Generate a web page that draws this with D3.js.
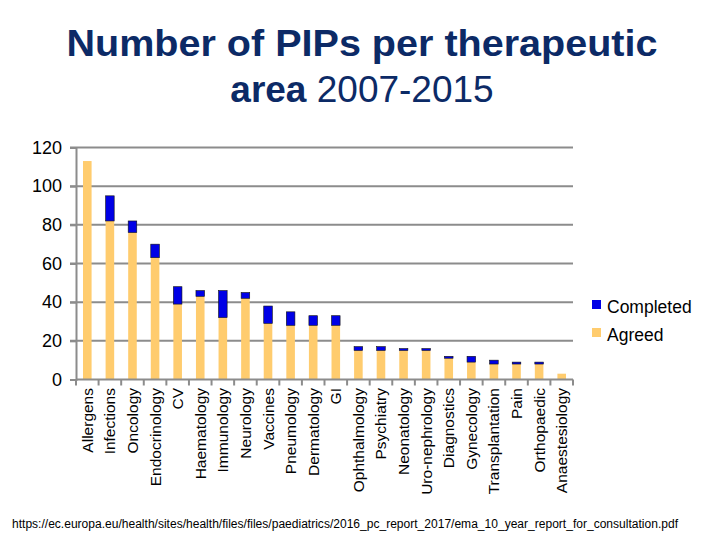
<!DOCTYPE html>
<html><head><meta charset="utf-8">
<script src="https://cdn.jsdelivr.net/npm/d3@7/dist/d3.min.js"></script>
<style>body{margin:0;background:#fff;}svg{display:block;font-family:Arial,"Liberation Sans",sans-serif;}</style>
</head><body>
<svg id="c" width="720" height="540"></svg>
<script>
const categories = ["Allergens","Infections","Oncology","Endocrinology","CV","Haematology","Immunology","Neurology","Vaccines","Pneumology","Dermatology","GI","Ophthalmology","Psychiatry","Neonatology","Uro-nephrology","Diagnostics","Gynecology","Transplantation","Pain","Orthopaedic","Anaestesiology"];
const agreed    = [113, 82, 76, 63, 39, 43, 32, 42, 29, 28, 28, 28, 15, 15, 15, 15, 11, 9, 8, 8, 8, 3];
const completed = [0, 13, 6, 7, 9, 3, 14, 3, 9, 7, 5, 5, 2, 2, 1, 1, 1, 3, 2, 1, 1, 0];
const yTicks = [0, 20, 40, 60, 80, 100, 120];
const seriesNames = ["Completed", "Agreed"];
const colors = {Completed: "#0000e6", Agreed: "#ffcc6e"};

const svg = d3.select("#c");
const x = d3.scaleBand().domain(categories).range([76, 573]).paddingInner(0.62).paddingOuter(0.31);
const y = d3.scaleLinear().domain([0, 120]).range([379.5, 147.5]);

// title
const t = svg.append("g").attr("fill", "#0c2a66");
t.append("text").attr("x", 362).attr("y", 56).attr("text-anchor", "middle")
  .attr("font-size", 37).attr("font-weight", "bold")
  .attr("textLength", 591).attr("lengthAdjust", "spacingAndGlyphs")
  .text("Number of PIPs per therapeutic");
const t2 = t.append("text").attr("x", 362).attr("y", 102).attr("text-anchor", "middle").attr("font-size", 37);
t2.append("tspan").attr("font-weight", "bold").text("area");
t2.append("tspan").text(" 2007-2015");

// gridlines
svg.append("g").selectAll("line").data(yTicks.filter(d => d > 0)).join("line")
  .attr("x1", 70).attr("x2", 573).attr("y1", d => y(d)).attr("y2", d => y(d))
  .attr("stroke", "#8c8c8c").attr("stroke-width", 2);

// y axis
const ya = svg.append("g").attr("transform", "translate(76,0)")
  .call(d3.axisLeft(y).tickValues(yTicks).tickSize(6).tickPadding(8));
ya.select(".domain").attr("stroke", "#8c8c8c").attr("stroke-width", 2);
ya.selectAll(".tick line").attr("stroke", "#8c8c8c").attr("stroke-width", 2);
ya.selectAll("text").attr("font-size", 18).attr("font-family", "Arial, 'Liberation Sans', sans-serif").attr("fill", "#000");

// bars
const stack = categories.map((c, i) => ({c, a: agreed[i], m: completed[i]}));
svg.append("g").selectAll("rect").data(stack).join("rect")
  .attr("x", d => x(d.c)).attr("width", x.bandwidth())
  .attr("y", d => y(d.a)).attr("height", d => y(0) - y(d.a))
  .attr("fill", colors.Agreed);
svg.append("g").selectAll("rect").data(stack.filter(d => d.m > 0)).join("rect")
  .attr("x", d => x(d.c)).attr("width", x.bandwidth())
  .attr("y", d => y(d.a + d.m)).attr("height", d => y(d.a) - y(d.a + d.m))
  .attr("fill", colors.Completed).attr("stroke", "#111").attr("stroke-width", 0.6);

// x axis
const xa = svg.append("g");
xa.append("line").attr("x1", 76).attr("x2", 573).attr("y1", y(0)).attr("y2", y(0))
  .attr("stroke", "#8c8c8c").attr("stroke-width", 2);
const step = x.step();
const bounds = d3.range(categories.length + 1).map(i => x(categories[0]) - x.paddingOuter() * step + i * step);
xa.selectAll("line.tk").data(bounds).join("line").attr("class", "tk")
  .attr("x1", d => d).attr("x2", d => d).attr("y1", y(0)).attr("y2", y(0) + 6)
  .attr("stroke", "#8c8c8c").attr("stroke-width", 2);
xa.selectAll("text").data(categories).join("text")
  .attr("transform", d => `translate(${x(d) + x.bandwidth() / 2 + 5.5},388) rotate(-90)`)
  .attr("text-anchor", "end").attr("font-size", 15.5).attr("fill", "#000").text(d => d);

// legend
const lg = svg.append("g");
seriesNames.forEach((s, i) => {
  lg.append("rect").attr("x", 592).attr("y", 300 + i * 28).attr("width", 9).attr("height", 9).attr("fill", colors[s]);
  lg.append("text").attr("x", 607).attr("y", 313 + i * 28).attr("font-size", 17.5).attr("fill", "#000").text(s);
});

// footer
svg.append("text").attr("x", 12).attr("y", 528).attr("font-size", 12).attr("fill", "#000")
  .attr("textLength", 666).attr("lengthAdjust", "spacingAndGlyphs")
  .text("https://ec.europa.eu/health/sites/health/files/files/paediatrics/2016_pc_report_2017/ema_10_year_report_for_consultation.pdf");
</script>
</body></html>
